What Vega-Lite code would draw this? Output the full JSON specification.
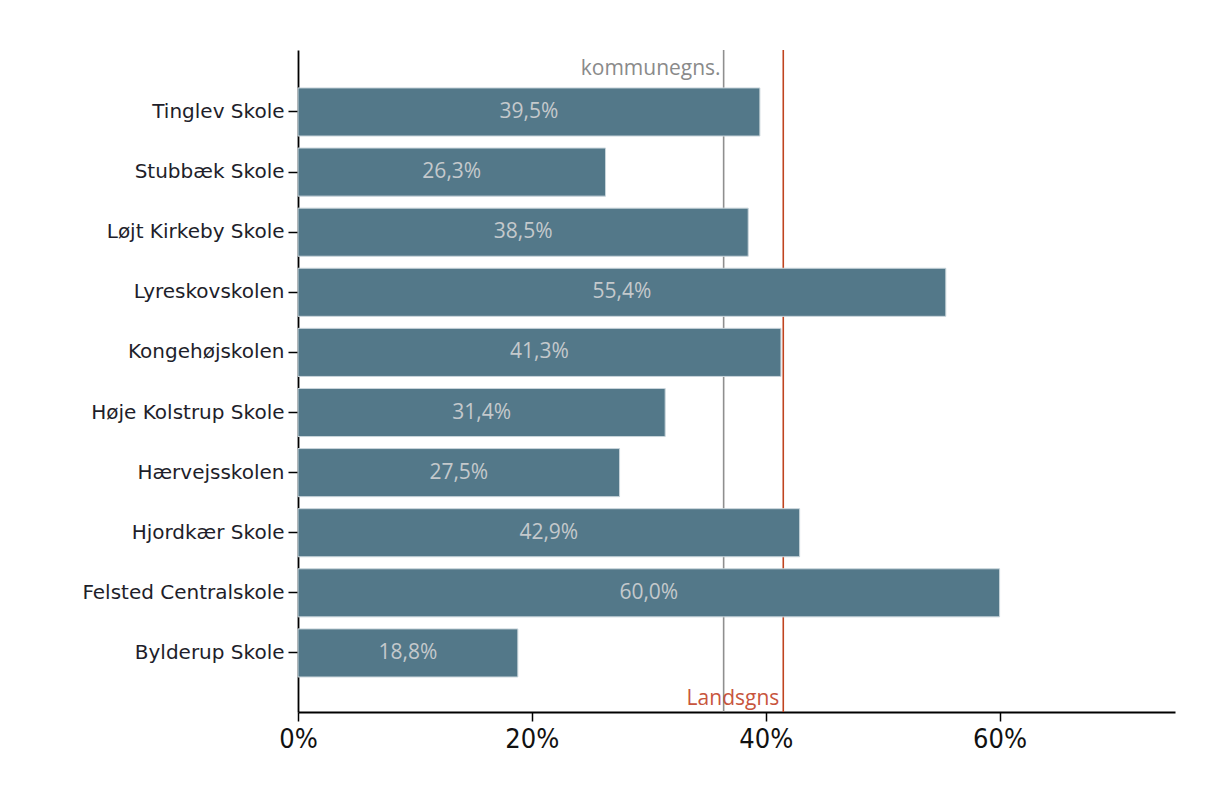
{
  "$schema": "https://vega.github.io/schema/vega-lite/v6.json",
  "width": 877,
  "height": 662,
  "autosize": "none",
  "padding": {"left": 298, "top": 50, "right": 31, "bottom": 82},
  "background": "white",
  "config": {
    "view": {"stroke": null},
    "locale": {"number": {"decimal": ",", "thousands": ".", "grouping": [3], "currency": ["", " kr."]}}
  },
  "datasets": {
    "schools": [
      {"school": "Tinglev Skole", "value": 0.395},
      {"school": "Stubbæk Skole", "value": 0.263},
      {"school": "Løjt Kirkeby Skole", "value": 0.385},
      {"school": "Lyreskovskolen", "value": 0.554},
      {"school": "Kongehøjskolen", "value": 0.413},
      {"school": "Høje Kolstrup Skole", "value": 0.314},
      {"school": "Hærvejsskolen", "value": 0.275},
      {"school": "Hjordkær Skole", "value": 0.429},
      {"school": "Felsted Centralskole", "value": 0.6},
      {"school": "Bylderup Skole", "value": 0.188}
    ]
  },
  "resolve": {"scale": {"x": "independent"}, "axis": {"x": "independent"}},
  "layer": [
    {
      "layer": [
        {
          "data": {"values": [{"ref": "kommunegns.", "value": 0.364}]},
          "mark": {"type": "rule", "color": "#8f8f8f", "strokeWidth": 1.6},
          "encoding": {"x": {"field": "value", "type": "quantitative"}}
        },
        {
          "data": {"values": [{"ref": "Landsgns", "value": 0.415}]},
          "mark": {"type": "rule", "color": "#c0441f", "strokeWidth": 1.6},
          "encoding": {"x": {"field": "value", "type": "quantitative"}}
        },
        {
          "data": {"name": "schools"},
          "mark": {"type": "bar", "color": "#537889", "stroke": "#c9d5db", "strokeWidth": 1},
          "encoding": {
            "y": {
              "field": "school", "type": "nominal", "sort": null,
              "scale": {"paddingInner": 0.2, "paddingOuter": 0.607, "align": 0.52},
              "axis": {
                "title": null, "labelFont": "DejaVu Sans", "labelFontSize": 20, "labelColor": "#1e1e2a",
                "labelLimit": 0,
                "tickSize": 10, "tickColor": "#000", "tickWidth": 1.5, "labelPadding": 4,
                "domainColor": "#000", "domainWidth": 1.8
              }
            },
            "x": {
              "field": "value", "type": "quantitative",
              "scale": {"domain": [0, 0.75], "nice": false, "zero": true},
              "axis": {
                "title": null, "format": "%", "values": [0, 0.2, 0.4, 0.6], "grid": false,
                "labelFont": "Liberation Sans Narrow, DejaVu Sans Condensed", "labelFontSize": 27, "labelColor": "#111",
                "tickSize": 9, "tickColor": "#000", "tickWidth": 1.5, "labelPadding": 5,
                "domainColor": "#000", "domainWidth": 1.8, "labelFlush": false
              }
            }
          }
        },
        {
          "data": {"values": [{"ref": "kommunegns.", "value": 0.364}]},
          "mark": {"type": "text", "align": "right", "baseline": "alphabetic", "dx": -3, "dy": -37, "font": "Open Sans", "fontSize": 21, "color": "#8a8a8a"},
          "encoding": {
            "x": {"field": "value", "type": "quantitative"},
            "y": {"datum": "Tinglev Skole", "type": "nominal"},
            "text": {"field": "ref"}
          }
        },
        {
          "data": {"values": [{"ref": "Landsgns", "value": 0.415}]},
          "mark": {"type": "text", "align": "right", "baseline": "alphabetic", "dx": -4, "dy": 52, "font": "Open Sans", "fontSize": 21, "color": "#c8553d"},
          "encoding": {
            "x": {"field": "value", "type": "quantitative"},
            "y": {"datum": "Bylderup Skole", "type": "nominal"},
            "text": {"field": "ref"}
          }
        }
      ]
    },
    {
      "data": {"name": "schools"},
      "mark": {"type": "text", "align": "center", "baseline": "middle", "font": "Open Sans", "fontSize": 21, "color": "#c4c9cc"},
      "encoding": {
        "y": {"field": "school", "type": "nominal", "sort": null},
        "x": {"field": "value", "type": "quantitative", "scale": {"domain": [0, 1.5], "nice": false}, "axis": null},
        "text": {"field": "value", "format": ".1%"}
      }
    }
  ]
}
